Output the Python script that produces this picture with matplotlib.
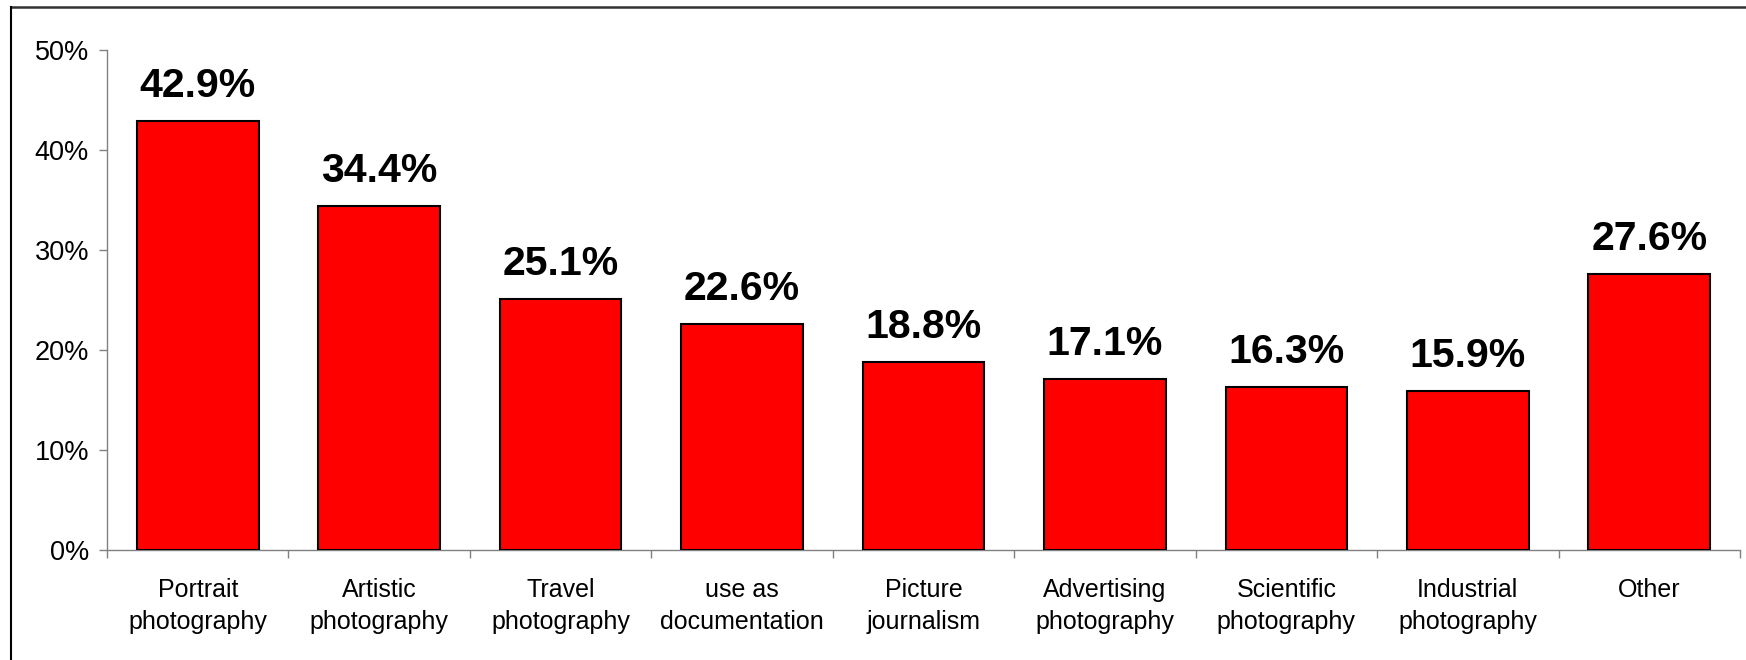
import matplotlib
matplotlib.use("Agg")
import matplotlib.pyplot as plt
from matplotlib.lines import Line2D
from matplotlib.ticker import FuncFormatter

categories = [
    "Portrait\nphotography",
    "Artistic\nphotography",
    "Travel\nphotography",
    "use as\ndocumentation",
    "Picture\njournalism",
    "Advertising\nphotography",
    "Scientific\nphotography",
    "Industrial\nphotography",
    "Other",
]
values = [42.9, 34.4, 25.1, 22.6, 18.8, 17.1, 16.3, 15.9, 27.6]
yticks = [0, 10, 20, 30, 40, 50]

plt.rcParams["font.family"] = ["Liberation Sans", "DejaVu Sans"]

W, H = 1746, 660
fig = plt.figure(figsize=(W / 100, H / 100), dpi=100)
fig.patch.set_facecolor("white")

x0, x1 = 107, 1740
y0, y1 = 550, 50
ax = fig.add_axes([x0 / W, 1 - y0 / H, (x1 - x0) / W, (y0 - y1) / H])

xs = list(range(len(categories)))
ax.bar(xs, values, width=0.67, color="#ff0000", edgecolor="black", linewidth=1.5, zorder=3)

for x, v in zip(xs, values):
    ax.annotate(f"{v:.1f}%", (x, v), xytext=(0, 17), textcoords="offset points",
                ha="center", va="baseline", fontsize=29.5, fontweight="bold", color="black")

ax.set_xlim(-0.5, len(categories) - 0.5)
ax.set_ylim(0, 50)
ax.set_yticks(yticks)
ax.yaxis.set_major_formatter(FuncFormatter(lambda v, _: f"{v:.0f}%"))

# category ticks sit on the boundaries between bars
ax.set_xticks([i - 0.5 for i in range(len(categories) + 1)])
ax.set_xticklabels([])
ax.set_xticks(xs, minor=True)
ax.set_xticklabels(categories, minor=True, fontsize=18, linespacing=1.45)
ax.tick_params(axis="x", which="minor", length=0, pad=20)
ax.tick_params(axis="x", which="major", length=6, width=1, color="#808080", direction="out")
ax.tick_params(axis="y", length=6, width=1, color="#808080", direction="out",
               labelsize=19.5, pad=7)

for side in ("top", "right"):
    ax.spines[side].set_visible(False)
for side in ("left", "bottom"):
    ax.spines[side].set_color("#808080")
    ax.spines[side].set_linewidth(1)

# outer frame lines along the top and left edges
fig.add_artist(Line2D([11 / W, 1], [1 - 7 / H, 1 - 7 / H], transform=fig.transFigure,
                      color="#333333", linewidth=1.8))
fig.add_artist(Line2D([11 / W, 11 / W], [0, 1 - 7 / H], transform=fig.transFigure,
                      color="black", linewidth=1.5))

fig.savefig("out.png", dpi=100, facecolor="white")
